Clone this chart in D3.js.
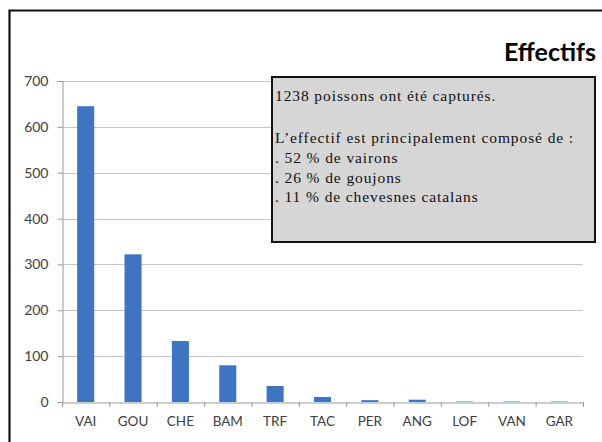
<!DOCTYPE html>
<html><head><meta charset="utf-8">
<script src="https://cdn.jsdelivr.net/npm/d3@7"></script>
<style>body{margin:0;background:#fff}svg{display:block}</style>
</head><body>
<svg id="c" width="602" height="442"></svg>
<script>
const categories = ["VAI","GOU","CHE","BAM","TRF","TAC","PER","ANG","LOF","VAN","GAR"];
const values = [645, 322, 133, 80, 35, 11, 4, 5, 1, 1, 1];
const yTicks = [0,100,200,300,400,500,600,700];
const chartTitle = "Effectifs";
const boxLines = ["1238 poissons ont été capturés.", "", "L’effectif est principalement composé de :", ". 52 % de vairons", ". 26 % de goujons", ". 11 % de chevesnes catalans"];

const svg = d3.select("#c");
const W = 602, H = 442;
const m = {left:62, right:583, top:81, bottom:402};
const sans = "Lato, 'Open Sans', sans-serif";

// frame
svg.append("path").attr("d",`M9.5,${H} V10.5 H${W}`).attr("fill","none").attr("stroke","#111").attr("stroke-width",2.2);

const x = d3.scaleBand().domain(categories).range([m.left,m.right]).paddingInner(0.64).paddingOuter(0.32);
const xb = d3.scaleBand().domain(categories).range([m.left,m.right]);
const y = d3.scaleLinear().domain([0,700]).range([m.bottom,m.top]);

// gridlines
svg.append("g").selectAll("line").data(yTicks.filter(d=>d>0)).join("line")
  .attr("x1",m.left).attr("x2",m.right).attr("y1",d=>Math.round(y(d))+0.5).attr("y2",d=>Math.round(y(d))+0.5)
  .attr("stroke","#c4c4c4").attr("stroke-width",1);

// y axis
const ya = svg.append("g").attr("transform",`translate(${m.left+0.5},0)`)
  .call(d3.axisLeft(y).tickValues(yTicks).tickSize(5).tickPadding(9));
ya.select(".domain").attr("stroke","#9a9a9a");
ya.selectAll(".tick line").attr("stroke","#9a9a9a");
ya.selectAll("text").attr("font-family",sans).attr("font-size",14).attr("fill","#404040");

// bars
svg.append("g").selectAll("rect").data(categories).join("rect")
  .attr("x",d=>x(d)).attr("width",x.bandwidth())
  .attr("y",(d,i)=>y(values[i])).attr("height",(d,i)=>m.bottom-y(values[i]))
  .attr("fill","#3f74c2");

// x axis
const xa = svg.append("g").attr("transform",`translate(0,${m.bottom+0.5})`)
  .call(d3.axisBottom(xb).tickSize(0).tickPadding(14));
xa.select(".domain").attr("stroke","#9a9a9a");
xa.selectAll("text").attr("font-family",sans).attr("font-size",13.5).attr("fill","#404040");
svg.append("g").selectAll("line").data(categories.concat(["_end"])).join("line")
  .attr("x1",(d,i)=>m.left+i*xb.bandwidth()+0.5).attr("x2",(d,i)=>m.left+i*xb.bandwidth()+0.5)
  .attr("y1",m.bottom).attr("y2",m.bottom+5).attr("stroke","#9a9a9a");

// chart title
svg.append("text").attr("x",596).attr("y",61).attr("text-anchor","end")
  .attr("font-family",sans).attr("font-weight","bold")
  .attr("font-size",25).attr("fill","#000").text(chartTitle);

// annotation box
svg.append("rect").attr("x",272).attr("y",77).attr("width",323).attr("height",165)
  .attr("fill","#d6d6d6").attr("stroke","#111").attr("stroke-width",2);
const bl = [101, 121, 143, 163, 183, 202];
svg.append("g").selectAll("text").data(boxLines).join("text")
  .attr("x",275).attr("y",(d,i)=>bl[i])
  .attr("font-family","'Liberation Serif', 'DejaVu Serif', serif").attr("font-size",15.5)
  .attr("letter-spacing",0.9)
  .attr("fill","#111").text(d=>d);
</script>
</body></html>
